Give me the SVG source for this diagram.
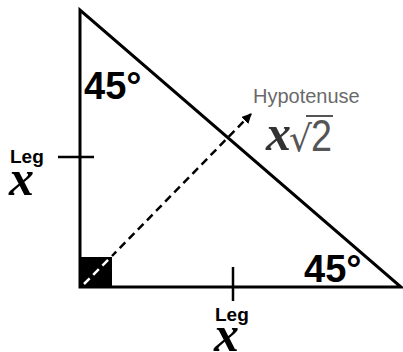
<svg xmlns="http://www.w3.org/2000/svg" width="403" height="352" viewBox="0 0 403 352">
<defs>
<style>
.edge{fill:none;stroke:#000;stroke-width:3;stroke-linejoin:miter}
.tick{stroke:#000;stroke-width:2.5}
.ang{font-family:"Liberation Sans",Arial,sans-serif;font-weight:bold;font-size:38px;fill:#000}
.leg{font-family:"Liberation Sans",Arial,sans-serif;font-weight:bold;font-size:19px;fill:#000}
.var{font-family:"Liberation Serif","Times New Roman",serif;font-weight:bold;font-style:italic;font-size:50px;fill:#000}
.hyp{font-family:"Liberation Sans",Arial,sans-serif;font-size:20px;fill:#6a6a6a}
.dash{fill:none;stroke:#000;stroke-width:2.5;stroke-dasharray:8 5}
</style>
<marker id="arr" viewBox="0 0 10 10" refX="9" refY="5" markerWidth="4" markerHeight="4" orient="auto" markerUnits="strokeWidth">
<path d="M0,0 L10,5 L0,10 z" fill="#000"/>
</marker>
</defs>
<rect width="403" height="352" fill="#fff"/>
<g id="triangle">
<rect x="81" y="257" width="31" height="30" fill="#000"/>
<path class="edge" d="M80,10 L80,287 L401,287 Z"/>
<line class="tick" x1="58" y1="157" x2="94" y2="157"/>
<line class="tick" x1="233" y1="267" x2="233" y2="301"/>
</g>
<g id="connectors">
<line x1="84" y1="284" x2="112" y2="256" stroke="#fff" stroke-width="2.5" stroke-dasharray="8 5"/>
<line class="dash" x1="112" y1="256" x2="251" y2="114" stroke-dashoffset="2" marker-end="url(#arr)"/>
</g>
<g id="angle-top">
<text class="ang" x="84" y="99">45°</text>
</g>
<g id="angle-bottom">
<text class="ang" x="304" y="282">45°</text>
</g>
<g id="leg-left">
<text class="leg" x="10" y="163">Leg</text>
<text class="var" x="9" y="195">x</text>
</g>
<g id="leg-bottom">
<text class="leg" x="215" y="321">Leg</text>
<text class="var" x="214" y="351">x</text>
</g>
<g id="hypotenuse">
<text class="hyp" x="253" y="103">Hypotenuse</text>
<text class="var" x="266" y="150" style="fill:#333">x</text>
<text x="289" y="151" font-family="DejaVu Sans,sans-serif" font-size="36" fill="#555">√</text>
<line x1="306" y1="116" x2="333" y2="116" stroke="#555" stroke-width="2"/>
<text x="311" y="151" font-family="Liberation Sans,Arial,sans-serif" font-size="44" fill="#555" textLength="21" lengthAdjust="spacingAndGlyphs">2</text>
</g>
</svg>
